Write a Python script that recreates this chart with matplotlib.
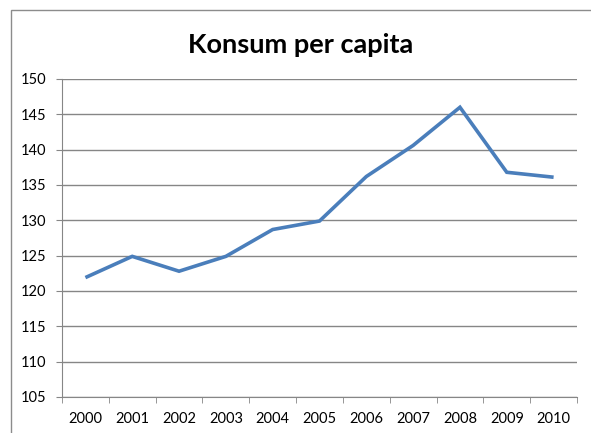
import matplotlib.pyplot as plt
from matplotlib.patches import Rectangle

# Dados do gráfico
anos = ['2000', '2001', '2002', '2003', '2004', '2005', '2006', '2007', '2008', '2009', '2010']
konsum = [121.9, 124.9, 122.8, 124.9, 128.7, 129.9, 136.2, 140.6, 146.0, 136.8, 136.1]
y_ticks = [105, 110, 115, 120, 125, 130, 135, 140, 145, 150]

plt.rcParams['font.family'] = ['Lato', 'DejaVu Sans']

W, H = 591, 433
fig = plt.figure(figsize=(W / 100, H / 100), dpi=100)
ax = fig.add_axes([62 / W, 1 - 397 / H, (577 - 62) / W, (397 - 79) / H])

# Moldura externa do gráfico
fig.patches.append(Rectangle((11 / W, -0.1), 1.2, 1 - 10 / H + 0.1, transform=fig.transFigure,
                             fill=False, edgecolor='#8c8c8c', linewidth=1.0))

x = range(len(anos))
ax.plot(x, konsum, color='#4a7ebb', linewidth=2.6, solid_joinstyle='miter', solid_capstyle='butt')

ax.set_xlim(-0.5, len(anos) - 0.5)
ax.set_ylim(105, 150)
ax.set_yticks(y_ticks)
ax.set_xticks(x)
ax.set_xticklabels(anos)
ax.set_xticks([i - 0.5 for i in range(len(anos) + 1)], minor=True)

ax.grid(axis='y', color='#868686', linewidth=1.0)
ax.set_axisbelow(True)
for lado in ['top', 'right']:
    ax.spines[lado].set_visible(False)
for lado in ['left', 'bottom']:
    ax.spines[lado].set_color('#868686')

ax.tick_params(axis='y', length=4, color='#868686', labelsize=10.5, pad=7)
ax.tick_params(axis='x', which='major', length=0, labelsize=10.5, pad=11)
ax.tick_params(axis='x', which='minor', length=4, color='#868686')

fig.text(301 / W, 1 - 45 / H, 'Konsum per capita', ha='center', va='center',
         fontsize=19.5, fontweight='bold')

fig.savefig('out.png', dpi=100)
